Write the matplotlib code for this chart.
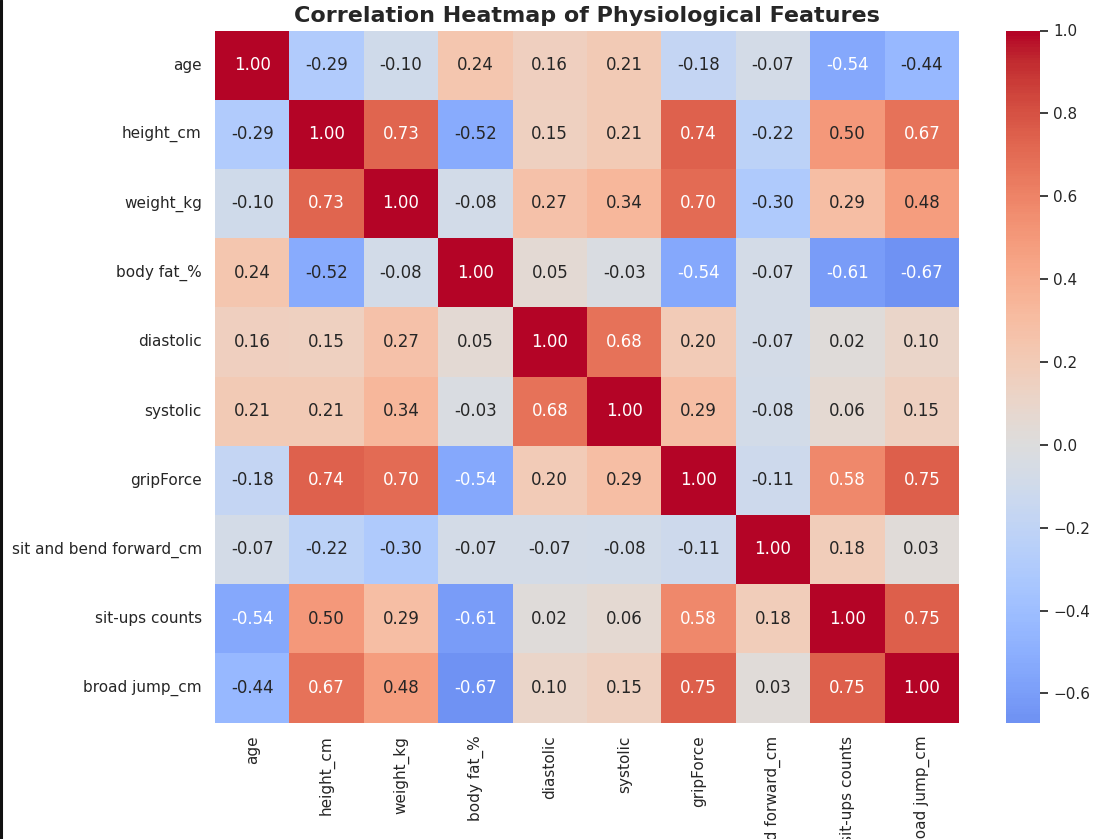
import numpy as np
import pandas as pd
import matplotlib
matplotlib.use("Agg")
import matplotlib.pyplot as plt
from matplotlib.lines import Line2D
import seaborn as sns

features = ["age", "height_cm", "weight_kg", "body fat_%", "diastolic", "systolic",
            "gripForce", "sit and bend forward_cm", "sit-ups counts", "broad jump_cm"]

row_age       = [1.00, -0.29, -0.10, 0.24, 0.16, 0.21, -0.18, -0.07, -0.54, -0.44]
row_height    = [-0.29, 1.00, 0.73, -0.52, 0.15, 0.21, 0.74, -0.22, 0.50, 0.67]
row_weight    = [-0.10, 0.73, 1.00, -0.08, 0.27, 0.34, 0.70, -0.30, 0.29, 0.48]
row_bodyfat   = [0.24, -0.52, -0.08, 1.00, 0.05, -0.03, -0.54, -0.07, -0.61, -0.67]
row_diastolic = [0.16, 0.15, 0.27, 0.05, 1.00, 0.68, 0.20, -0.07, 0.02, 0.10]
row_systolic  = [0.21, 0.21, 0.34, -0.03, 0.68, 1.00, 0.29, -0.08, 0.06, 0.15]
row_grip      = [-0.18, 0.74, 0.70, -0.54, 0.20, 0.29, 1.00, -0.11, 0.58, 0.75]
row_sitbend   = [-0.07, -0.22, -0.30, -0.07, -0.07, -0.08, -0.11, 1.00, 0.18, 0.03]
row_situps    = [-0.54, 0.50, 0.29, -0.61, 0.02, 0.06, 0.58, 0.18, 1.00, 0.75]
row_broad     = [-0.44, 0.67, 0.48, -0.67, 0.10, 0.15, 0.75, 0.03, 0.75, 1.00]

corr = pd.DataFrame([row_age, row_height, row_weight, row_bodyfat, row_diastolic,
                     row_systolic, row_grip, row_sitbend, row_situps, row_broad],
                    index=features, columns=features)

sns.set_theme(style="white")
plt.rcParams['font.family'] = ['DejaVu Sans']

fig = plt.figure(figsize=(10.99, 8.39), dpi=100)
ax = fig.add_axes([215/1099, 1-722.5/839, (959-215)/1099, (722.5-30.5)/839])
cax = fig.add_axes([1006/1099, 1-722.5/839, 34/1099, (722.5-30.5)/839])

sns.heatmap(corr, annot=True, fmt=".2f", cmap="coolwarm", center=0,
            ax=ax, cbar_ax=cax, annot_kws={"size": 12})
ax.set_title("Correlation Heatmap of Physiological Features", fontsize=16,
             fontweight="bold", pad=6)
ax.tick_params(axis='both', labelsize=11)
plt.setp(ax.get_xticklabels(), rotation=90)
plt.setp(ax.get_yticklabels(), rotation=0)
cax.tick_params(labelsize=11)

fig.add_artist(Line2D([0.001, 0.001], [0, 1], transform=fig.transFigure,
                      color="#111111", linewidth=2.2))

fig.savefig("out.png", dpi=100)
